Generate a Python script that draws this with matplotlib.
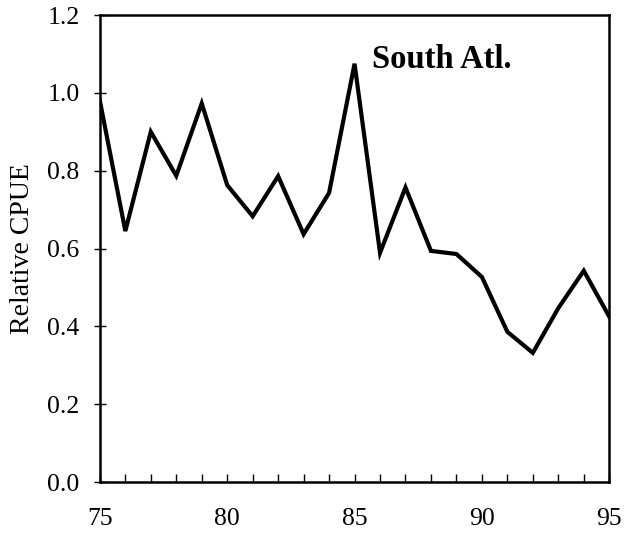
import matplotlib.pyplot as plt
from matplotlib.ticker import MultipleLocator

plt.rcParams['font.family'] = ['Liberation Serif', 'DejaVu Serif']

# Relative CPUE by year, South Atlantic
years = [75, 76, 77, 78, 79, 80, 81, 82, 83, 84, 85,
         86, 87, 88, 89, 90, 91, 92, 93, 94, 95]
cpue = [0.98, 0.645, 0.90, 0.787, 0.973, 0.763, 0.683, 0.786, 0.637, 0.743, 1.075,
        0.589, 0.757, 0.594, 0.586, 0.527, 0.386, 0.332, 0.447, 0.543, 0.425]

x_ticks = [75, 80, 85, 90, 95]
y_ticks = [0.0, 0.2, 0.4, 0.6, 0.8, 1.0, 1.2]

fig = plt.figure(figsize=(6.32, 5.38), dpi=100)
ax = fig.add_axes([0.158, 0.104, 0.806, 0.868])

ax.plot(years, cpue, color='black', linewidth=3.0, solid_joinstyle='miter')

ax.set_xlim(75, 95)
ax.set_ylim(0, 1.2)
ax.set_xticks(x_ticks)
ax.set_yticks(y_ticks)
ax.set_yticklabels([f'{v:.1f}' for v in y_ticks])
ax.xaxis.set_minor_locator(MultipleLocator(1))

ax.tick_params(axis='x', which='both', direction='in', length=6, width=1,
               labelsize=18.5, pad=19)
ax.tick_params(axis='y', which='major', direction='inout', length=9, width=1,
               labelsize=18.5, pad=10)

for s in ax.spines.values():
    s.set_linewidth(1.8)

ax.set_ylabel('Relative CPUE', fontsize=20, labelpad=9)
ax.text(0.535, 0.905, 'South Atl.', transform=ax.transAxes,
        fontsize=23.5, fontweight='bold', ha='left', va='center')

plt.savefig('out.png', dpi=100)
